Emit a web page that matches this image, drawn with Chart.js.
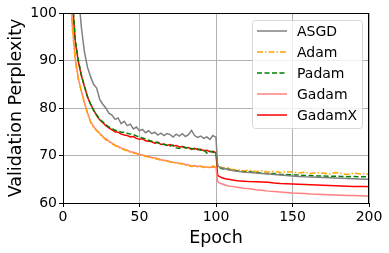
<!DOCTYPE html>
<html>
<head>
<meta charset="utf-8">
<script src="https://cdn.jsdelivr.net/npm/chart.js@4.4.1/dist/chart.umd.min.js"></script>
<style>
  html, body { margin: 0; padding: 0; background: #fff; }
  #wrap { width: 389px; height: 253px; }
</style>
</head>
<body>
<div id="wrap"><canvas id="chart" width="389" height="253"></canvas></div>
<script>
// epochs sampled from the plot
const epochs = [
  2, 4, 6, 8, 10, 12, 14, 16, 18, 20, 22, 24, 26, 28, 30, 32, 34, 36, 38, 40,
  42, 44, 46, 48, 50, 52, 54, 56, 58, 60, 62, 64, 66, 68, 70, 72, 74, 76, 78, 80,
  82, 84, 86, 88, 90, 92, 94, 96, 98, 100,
  101, 102, 104, 106, 108, 110,
  114, 118, 122, 126, 130, 134, 138, 142, 146, 150, 154, 158, 162, 166, 170, 174, 178, 182, 186, 190, 194, 198,
  200
];

const seriesNames = ['ASGD', 'Adam', 'Padam', 'Gadam', 'GadamX'];

const asgd = [
  190, 160, 135, 118, 104.5, 97, 91.8, 88.6, 86.6, 85, 84.2, 81.8, 80.8, 80, 78.9, 78.5, 77.6, 77.9, 76.7, 77.2,
  76.3, 76.6, 75.6, 76, 75.2, 75.5, 74.8, 75.2, 74.6, 74.9, 74.3, 74.7, 74.2, 74.6, 74.4, 73.9, 74.5, 74.1, 74.6, 74,
  74.4, 75.3, 74.2, 73.8, 74.1, 73.6, 73.9, 73.4, 74.2, 73.8,
  67.9, 67.6, 67.4, 67.2, 67.0, 66.9,
  66.7, 66.5, 66.4, 66.3, 66.2, 66.1, 66.0, 65.9, 65.8, 65.7, 65.6, 65.5, 65.45, 65.4, 65.35, 65.3, 65.25, 65.2, 65.15, 65.1, 65.05, 65.0,
  65.0
];

const adam = [
  150, 112, 97, 90, 86, 83.5, 81, 78.8, 77, 75.9, 75.2, 74.5, 73.9, 73.3, 72.9, 72.5, 72.1, 71.8, 71.4, 71.2,
  71.0, 70.7, 70.5, 70.4, 70.1, 70.0, 69.8, 69.7, 69.5, 69.3, 69.2, 69.0, 68.9, 68.8, 68.7, 68.5, 68.4, 68.3, 68.2, 68.0,
  67.9, 67.7, 67.8, 67.6, 67.7, 67.5, 67.6, 67.4, 67.8, 67.5,
  68.0, 67.6, 67.5, 67.3, 67.4, 67.1,
  67.0, 66.8, 66.9, 66.6, 66.8, 66.5, 66.7, 66.4, 66.6, 66.5, 66.3, 66.5, 66.2, 66.4, 66.3, 66.1, 66.4, 66.2, 66.0, 66.3, 66.1, 66.2,
  66.0
];

const padam = [
  168, 126, 104, 94.5, 90, 87, 84.6, 82.4, 80.9, 79.5, 78.6, 77.6, 77.1, 76.5, 76.0, 75.7, 75.3, 75.2, 74.9, 74.9,
  74.7, 74.5, 74.4, 74.1, 73.9, 73.7, 73.5, 73.2, 73.0, 72.8, 72.7, 72.4, 72.3, 72.2, 72.0, 72.2, 71.6, 71.5, 71.9, 71.7,
  71.5, 71.5, 71.3, 71.4, 71.1, 71.2, 70.5, 70.9, 70.7, 70.6,
  67.8, 67.5, 67.2, 67.1, 67.2, 66.9,
  66.8, 66.6, 66.6, 66.4, 66.3, 66.2, 66.2, 66.0, 66.0, 65.9, 65.9, 65.8, 65.8, 65.7, 65.7, 65.6, 65.65, 65.6, 65.55, 65.6, 65.5, 65.55,
  65.5
];

const gadam = [
  148, 113, 98, 90.5, 86.3, 83.6, 81.2, 79, 77.2, 76.1, 75.3, 74.7, 74.0, 73.5, 73.0, 72.6, 72.2, 71.9, 71.6, 71.3,
  71.1, 70.8, 70.7, 70.5, 70.2, 70.1, 69.9, 69.8, 69.6, 69.5, 69.3, 69.1, 69.0, 68.9, 68.7, 68.6, 68.5, 68.3, 68.3, 68.1,
  68.0, 67.8, 67.9, 67.7, 67.8, 67.6, 67.6, 67.5, 67.6, 67.5,
  64.6, 64.3, 64.0, 63.8, 63.6, 63.5,
  63.3, 63.1, 63.0, 62.8, 62.7, 62.5, 62.4, 62.3, 62.2, 62.1, 62.05, 62.0, 61.9, 61.85, 61.8, 61.75, 61.7, 61.65, 61.6, 61.6, 61.55, 61.5,
  61.5
];

const gadamx = [
  165, 125, 103, 94, 89.8, 86.8, 84.5, 82.3, 80.8, 79.6, 78.4, 77.5, 76.9, 76.3, 75.8, 75.4, 75.0, 74.9, 74.5, 74.3,
  74.2, 73.9, 74.0, 73.6, 73.4, 73.5, 73.1, 73.0, 72.9, 72.6, 72.8, 72.3, 72.4, 72.1, 72.3, 72.0, 72.1, 71.8, 71.9, 71.6,
  71.7, 71.3, 71.5, 71.2, 71.3, 71.0, 71.1, 70.8, 70.9, 70.6,
  65.9, 65.6, 65.3, 65.1, 65.0, 64.9,
  64.7, 64.6, 64.5, 64.45, 64.4, 64.35, 64.2, 64.1, 64.05, 64.0, 63.95, 63.9, 63.85, 63.8, 63.75, 63.7, 63.65, 63.6, 63.55, 63.5, 63.5, 63.45,
  63.4
];

const xTicks = [0, 50, 100, 150, 200];
const yTicks = [60, 70, 80, 90, 100];

const FONT = 'DejaVu Sans';

function toPoints(vals) {
    return epochs.map((e, i) => ({ x: e, y: vals[i] }));
}

const styles = [
    { color: '#808080', dash: [] },
    { color: '#ffa500', dash: [6, 2, 1.5, 2] },
    { color: '#008000', dash: [5, 2.5] },
    { color: '#ff8080', dash: [] },
    { color: '#ff0000', dash: [] }
];
const allValues = [asgd, adam, padam, gadam, gadamx];

const datasets = seriesNames.map((name, i) => ({
    label: name,
    data: toPoints(allValues[i]),
    borderColor: styles[i].color,
    backgroundColor: styles[i].color,
    borderDash: styles[i].dash,
    borderWidth: 1.5,
    pointRadius: 0,
    tension: 0,
    fill: false
}));

// box around the plot (matplotlib spines)
const framePlugin = {
    id: 'frame',
    afterDatasetsDraw(chart) {
        const a = chart.chartArea;
        const ctx = chart.ctx;
        ctx.save();
        ctx.strokeStyle = '#000';
        ctx.lineWidth = 1;
        ctx.strokeRect(Math.round(a.left) + 0.5, Math.round(a.top) + 0.5,
            Math.round(a.right - a.left) - 1, Math.round(a.bottom - a.top));
        ctx.restore();
    }
};

// legend drawn inside the plot, top right
const innerLegend = {
    id: 'innerLegend',
    afterDraw(chart) {
        const ctx = chart.ctx;
        const x = 252.5, y = 20.5, w = 110, h = 108, r = 3;
        ctx.save();
        ctx.beginPath();
        ctx.moveTo(x + r, y);
        ctx.arcTo(x + w, y, x + w, y + h, r);
        ctx.arcTo(x + w, y + h, x, y + h, r);
        ctx.arcTo(x, y + h, x, y, r);
        ctx.arcTo(x, y, x + w, y, r);
        ctx.closePath();
        ctx.fillStyle = 'rgba(255,255,255,0.8)';
        ctx.fill();
        ctx.strokeStyle = '#d6d6d6';
        ctx.lineWidth = 1;
        ctx.stroke();

        ctx.font = '14px "' + FONT + '"';
        ctx.textBaseline = 'middle';
        ctx.fillStyle = '#000';
        chart.data.datasets.forEach((ds, i) => {
            const ly = 31 + i * 21;
            ctx.beginPath();
            ctx.setLineDash(ds.borderDash);
            ctx.strokeStyle = ds.borderColor;
            ctx.lineWidth = 1.5;
            ctx.moveTo(257, ly);
            ctx.lineTo(287, ly);
            ctx.stroke();
            ctx.setLineDash([]);
            ctx.fillText(ds.label, 297, ly + 1);
        });
        ctx.restore();
    }
};

new Chart(document.getElementById('chart'), {
    type: 'line',
    data: { datasets: datasets },
    plugins: [framePlugin, innerLegend],
    options: {
        responsive: false,
        animation: false,
        devicePixelRatio: 1,
        layout: { padding: { top: 13, right: 20, left: 0, bottom: 0 } },
        plugins: {
            legend: { display: false },
            tooltip: { enabled: false }
        },
        scales: {
            x: {
                type: 'linear',
                min: 0,
                max: 200,
                afterBuildTicks: s => { s.ticks = xTicks.map(v => ({ value: v })); },
                afterFit: s => { s.height = 50; },
                ticks: { color: '#000', font: { family: FONT, size: 14 }, padding: 2, maxRotation: 0 },
                grid: { color: '#b0b0b0', lineWidth: 1, tickLength: 4, tickColor: '#000' },
                border: { color: '#000', width: 1 },
                title: { display: true, text: 'Epoch', color: '#000', font: { family: FONT, size: 17.5 }, padding: { top: 0, bottom: 4 } }
            },
            y: {
                min: 60,
                max: 100,
                afterBuildTicks: s => { s.ticks = yTicks.map(v => ({ value: v })); },
                afterFit: s => { s.width = 63; },
                ticks: { color: '#000', font: { family: FONT, size: 14 }, padding: 2 },
                grid: { color: '#b0b0b0', lineWidth: 1, tickLength: 4, tickColor: '#000' },
                border: { color: '#000', width: 1 },
                title: { display: true, text: 'Validation Perplexity', color: '#000', font: { family: FONT, size: 17.5 }, padding: { top: 6, bottom: 0 } }
            }
        }
    }
});
</script>
</body>
</html>
